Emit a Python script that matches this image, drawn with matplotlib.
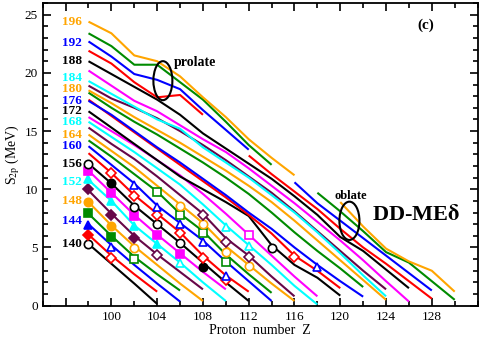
import numpy as np
import matplotlib.pyplot as plt
from matplotlib.patches import Ellipse
from matplotlib.ticker import MultipleLocator

plt.rcParams['font.family'] = ['Liberation Serif', 'DejaVu Serif']
plt.rcParams['mathtext.fontset'] = 'stix'

# isotone chains: neutron number and S2p values at Z = 98, 100, ... (nan = gap)
z_start = 98
n_values = [140, 142, 144, 146, 148, 150, 152, 154, 156, 158, 160, 162, 164, 166,
            168, 170, 172, 174, 176, 178, 180, 182, 184, 186, 188, 190, 192, 194, 196]
nan = np.nan
s2p = {
    140: [5.3, 3.6, 1.9, 0.15],
    142: [6.1, 4.3, 2.7, 1.2],
    144: [7.0, 5.2, 3.5, 1.9, 0.35],
    146: [7.9, 6.0, 4.2, 2.7, 1.3],
    148: [8.9, 6.9, 5.1, 3.5, 1.9, 0.4],
    150: [9.9, 7.9, 6.0, 4.4, 2.9, 1.4],
    152: [10.8, 9.0, 6.9, 5.3, 3.7, 2.0, 0.4],
    154: [11.6, 9.7, 7.8, 6.1, 4.5, 2.9, 1.4],
    156: [12.2, 10.5, 8.6, 7.0, 5.4, 3.7, 2.0, 0.4],
    158: [13.1, 11.4, 9.5, 7.9, 6.3, 4.3, 2.6, 1.2],
    160: [13.7, 12.1, 10.5, 8.6, 7.1, 5.6, 3.8, 2.1, 0.4],
    162: [14.2, 12.8, 11.3, 9.8, 7.9, 6.4, 4.4, 2.7, 1.1],
    164: [14.7, 13.3, 11.9, 10.3, 8.7, 7.1, 5.1, 3.5, 1.9, 0.4],
    166: [15.3, 13.9, 12.6, 11.1, 9.5, 7.9, 5.8, 4.3, 2.5, 0.8],
    168: [15.8, 14.5, 13.2, 11.8, 10.4, 8.7, 6.9, 5.2, 3.5, 1.7, 0.1],
    170: [16.2, 15.0, 13.8, 12.5, 11.2, 9.6, 7.9, 6.1, 4.3, 2.5, 0.8],
    172: [16.7, 15.3, 13.9, 12.5, 11.1, 10.0, 8.9, 7.7, 5.2, 3.5, 2.4, 0.86],
    174: [17.7, 16.3, 14.9, 13.5, 12.1, 10.7, 9.3, 7.8, 6.2, 4.3, 3.0, 1.5],
    176: [17.6, 16.4, 15.0, 13.6, 12.3, 10.9, 9.5, 8.0, 6.6, 5.0, 3.5, 2.1, 0.77],
    178: [18.3, 17.0, 15.8, 14.7, 13.5, 12.3, 11.0, 9.6, 8.0, 6.3, 4.7, 3.2, 1.6],
    180: [18.5, 17.4, 16.2, 15.1, 14.0, 12.8, 11.6, 10.3, 8.9, 7.3, 5.6, 3.9, 2.2, 0.5],
    182: [18.9, 17.8, 17.0, 16.1, 15.0, 13.8, 12.5, 11.1, 9.7, 8.1, 6.4, 4.7, 3.0, 1.4],
    184: [19.3, 18.2, 17.1, 16.0, 15.2, 13.6, 12.3, 11.0, 9.5, 8.0, 6.3, 4.5, 2.6, 0.8],
    186: [20.2, 18.9, 17.6, 16.7, 15.5, 14.3, 13.2, 11.8, 10.3, 8.8, 7.2, 5.6, 3.9, 2.1, 0.35],
    188: [21.0, 19.9, 18.8, 17.7, 16.4, 14.8, 13.5, 12.2, 10.9, 9.4, 7.8, 5.9, 4.7, 3.1, 1.5],
    190: [21.9, 20.8, 19.2, 17.9, 18.1, 16.4, nan, 12.9, 11.3, 9.8, 8.3, 6.6, 5.0, 3.6, 2.1, 0.6],
    192: [22.7, 21.4, 19.9, 19.4, 18.6, 16.8, 15.1, 13.4, nan, 10.6, 8.8, 7.3, 5.8, 4.3, 2.8, 1.3],
    194: [23.4, 22.3, 20.7, 20.7, 19.2, 17.7, 15.8, 13.8, 12.1, nan, 9.7, 8.1, 6.4, 4.6, 3.7, 2.1, 0.5],
    196: [24.4, 23.4, 21.5, 21.0, 19.7, 17.9, 16.2, 14.3, 12.7, 11.2, nan, 8.9, 6.8, 4.9, 3.8, 3.0, 1.2],
}
label_n = [140, 144, 148, 152, 156, 160, 164, 168, 172, 176, 180, 184, 188, 192, 196]
label_y = [5.3, 7.3, 9.0, 10.6, 12.2, 13.7, 14.7, 15.8, 16.7, 17.6, 18.6, 19.6, 21.0, 22.6, 24.4]

# experimental points
mk_n = [140, 142, 144, 146, 148, 150, 152, 154, 156,
        142, 144, 146, 148, 150, 152, 154, 156, 158,
        146, 148, 150, 152, 154, 156, 158, 160,
        150, 152, 154, 156, 158, 160, 162,
        152, 154, 156, 158, 160, 162, 164,
        156, 158, 160, 162, 164, 166,
        158, 160, 162, 164, 166, 168,
        164, 166, 168, 170,
        172, 174, 176]
mk_z = [98] * 9 + [100] * 9 + [102] * 8 + [104] * 7 + [106] * 7 + [108] * 6 + [110] * 6 + [112] * 4 + [114, 116, 118]
mk_s = [5.27, 6.07, 6.93, 7.93, 8.93, 10.0, 10.85, 11.56, 12.2,
        4.12, 5.07, 5.92, 6.84, 7.79, 8.99, 9.65, 10.5, 11.36,
        3.98, 4.98, 5.84, 6.84, 7.7, 8.5, 9.4, 10.4,
        4.35, 5.27, 6.07, 6.99, 7.79, 8.5, 9.8,
        3.64, 4.41, 5.36, 6.21, 6.99, 7.79, 8.56,
        3.35, 4.12, 5.49, 6.27, 7.01, 7.79,
        2.2, 2.58, 3.73, 4.64, 5.49, 6.78,
        3.41, 4.21, 5.1, 6.03,
        4.93, 4.15, 3.35]
mk_filled = [0, 1, 1, 1, 1, 1, 1, 1, 0,
             0, 0, 1, 1, 1, 1, 1, 1, 0,
             0, 0, 1, 1, 1, 0, 0, 0,
             0, 1, 1, 0, 0, 0, 0,
             0, 1, 0, 0, 0, 0, 0,
             1, 0, 0, 0, 0, 0,
             0, 0, 0, 0, 0, 0,
             0, 0, 0, 0,
             0, 0, 0]

colors = ['#000000', '#ff0000', '#0000ff', '#008b00',
          '#ffa500', '#670748', '#00ffff', '#ff00ff']
markers = ['o', 'D', '^', 's', 'o', 'D', '^', 's']
msizes = [6, 4.8, 6.3, 5.6, 6, 4.8, 6.3, 5.6]


def style(n):
    k = ((n - 140) // 2) % 8
    return colors[k], markers[k], msizes[k]


fig = plt.figure(figsize=(4.8, 3.37), dpi=100)
ax = fig.add_axes([0.089, 0.093, 0.906, 0.898])

for n in n_values:
    vals = np.array(s2p[n], dtype=float)
    z = z_start + 2 * np.arange(len(vals))
    c, _, _ = style(n)
    ax.plot(z, vals, color=c, lw=1.5, solid_capstyle='butt', zorder=2)

for n, z, s, f in zip(mk_n, mk_z, mk_s, mk_filled):
    c, m, ms = style(n)
    ax.plot(z, s, marker=m, ms=ms, mec=c, mew=1.2,
            mfc=c if f else 'white', ls='none', zorder=3)

for n, y in zip(label_n, label_y):
    c, _, _ = style(n)
    ax.text(97.4, y, str(n), color=c, fontsize=9.5, fontweight='bold',
            ha='right', va='center')

ax.add_patch(Ellipse((104.5, 19.33), 1.66, 3.35, fill=False, lw=1.5, ec='black', zorder=4))
ax.add_patch(Ellipse((120.8, 7.29), 1.75, 3.29, fill=False, lw=1.5, ec='black', zorder=4))
ax.text(107.3, 20.9, 'prolate', fontsize=10, fontweight='bold', ha='center', va='center')
ax.text(120.9, 9.4, 'oblate', fontsize=9, fontweight='bold', ha='center', va='center')
ax.text(126.6, 7.8, r'DD-ME$\mathbf{\delta}$', fontsize=16, fontweight='bold',
        ha='center', va='center')
ax.text(127.5, 24.05, '(c)', fontsize=11, fontweight='bold', ha='center', va='center')

ax.set_xlim(94, 132)
ax.set_ylim(0, 26)
ax.set_xticks([96, 100, 104, 108, 112, 116, 120, 124, 128])
ax.set_xticklabels(['', '100', '104', '108', '112', '116', '120', '124', '128'])
ax.xaxis.set_minor_locator(MultipleLocator(2))
ax.set_yticks([0, 5, 10, 15, 20, 25])
ax.yaxis.set_minor_locator(MultipleLocator(1))
ax.tick_params(which='both', direction='in', top=True, right=True, labelsize=9.5, width=1.2)
ax.tick_params(which='major', length=6)
ax.tick_params(which='minor', length=3.5)
for sp in ax.spines.values():
    sp.set_linewidth(1.3)

ax.set_xlabel('Proton  number  Z', fontsize=10, labelpad=1)
ax.set_ylabel(r'S$_{\rm 2p}$ (MeV)', fontsize=10, labelpad=2)

fig.savefig('out.png', dpi=100)
